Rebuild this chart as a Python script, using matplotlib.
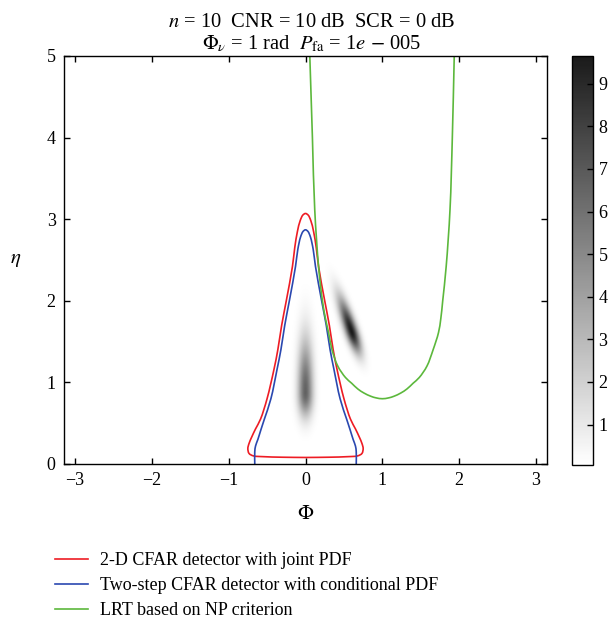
import numpy as np
import matplotlib
matplotlib.use("Agg")
import matplotlib.pyplot as plt
from matplotlib.colors import LinearSegmentedColormap
from matplotlib.lines import Line2D
from matplotlib.path import Path
from matplotlib.patches import PathPatch

# ---- data ----
# density blobs (2-D PDF shown as grey image)
blob_phi = [0.0, 0.60]
blob_eta = [0.87, 1.62]
blob_sigma_up = [0.45, 0.29]      # spread along main axis, upper side
blob_sigma_down = [0.20, 0.19]    # spread along main axis, lower side
blob_sigma_across = [0.068, 0.055]
blob_tilt_deg = [0.0, 20.0]       # tilt of main axis from vertical
blob_peak = [6.6, 9.6]

# red: 2-D CFAR detector with joint PDF (right half, mirrored)
red_halfwidth = [0.0, 0.30, 0.55, 0.68, 0.735, 0.75, 0.735, 0.70, 0.65, 0.585,
                 0.50, 0.41, 0.36, 0.31, 0.25, 0.17, 0.14, 0.105, 0.07,
                 0.035, 0.0]
red_eta = [0.08, 0.083, 0.09, 0.10, 0.13, 0.19, 0.25, 0.33, 0.43, 0.55,
           0.80, 1.16, 1.40, 1.70, 2.00, 2.42, 2.65, 2.85, 2.98, 3.05, 3.07]

# blue: two-step CFAR detector with conditional PDF (right half, mirrored)
blue_halfwidth = [0.66, 0.66, 0.65, 0.62, 0.58, 0.535, 0.45, 0.37, 0.32,
                  0.27, 0.21, 0.13, 0.10, 0.065, 0.032, 0.0]
blue_eta = [0.0, 0.15, 0.22, 0.30, 0.42, 0.55, 0.80, 1.16, 1.40, 1.70,
            2.00, 2.42, 2.63, 2.78, 2.85, 2.87]

# green: LRT based on NP criterion
green_phi = [0.056, 0.09, 0.12, 0.17, 0.22, 0.26, 0.30, 0.345, 0.42, 0.52,
             0.60, 0.68, 0.76, 0.85, 0.92, 1.00, 1.08, 1.15, 1.24, 1.32,
             1.40, 1.48, 1.58, 1.66, 1.73, 1.76, 1.785, 1.83, 1.88, 1.91,
             1.935]
green_eta = [5.0, 4.0, 3.12, 2.42, 2.00, 1.78, 1.61, 1.40, 1.20, 1.06,
             0.99, 0.92, 0.87, 0.83, 0.81, 0.80, 0.81, 0.83, 0.87, 0.92,
             0.99, 1.06, 1.20, 1.40, 1.61, 1.78, 2.00, 2.42, 3.12, 4.00,
             5.00]

legend_labels = ["2-D CFAR detector with joint PDF",
                 "Two-step CFAR detector with conditional PDF",
                 "LRT based on NP criterion"]
x_ticks = [-3, -2, -1, 0, 1, 2, 3]
y_ticks = [0, 1, 2, 3, 4, 5]
cbar_ticks = [1, 2, 3, 4, 5, 6, 7, 8, 9]

# ---- style ----
plt.rcParams['font.family'] = ['Liberation Serif', 'DejaVu Serif']
plt.rcParams['mathtext.fontset'] = 'stix'
FS = 13


def smooth_path(x, y):
    """Draw the read points as a smooth curve (centripetal Catmull-Rom)."""
    p = np.column_stack([x, y]).astype(float)
    n = len(p)
    verts = [p[0]]
    codes = [Path.MOVETO]
    for i in range(n - 1):
        p1, p2 = p[i], p[i + 1]
        d2 = np.linalg.norm(p2 - p1) ** 0.5
        if i > 0:
            p0 = p[i - 1]
            d1 = np.linalg.norm(p1 - p0) ** 0.5
            c1 = (d1**2 * p2 - d2**2 * p0 + (2*d1**2 + 3*d1*d2 + d2**2) * p1) / (3*d1*(d1 + d2))
        else:
            c1 = p1 + (p2 - p1) / 3.0
        if i + 2 < n:
            p3 = p[i + 2]
            d3 = np.linalg.norm(p3 - p2) ** 0.5
            c2 = (d3**2 * p1 - d2**2 * p3 + (2*d3**2 + 3*d3*d2 + d2**2) * p2) / (3*d3*(d3 + d2))
        else:
            c2 = p2 - (p2 - p1) / 3.0
        verts += [c1, c2, p2]
        codes += [Path.CURVE4] * 3
    return Path(verts, codes)


fig = plt.figure(figsize=(6.11, 6.25), dpi=100)
ax = fig.add_axes([64/611, 1-464/625, (547-64)/611, (464-56)/625])
cax = fig.add_axes([572/611, 1-465/625, 21/611, (465-56)/625])

# density image
phi = np.linspace(-np.pi, np.pi, 700)
eta = np.linspace(0, 5, 600)
P, E = np.meshgrid(phi, eta)
Z = np.zeros_like(P)
for cx, cy, su, sd, sa, t, pk in zip(blob_phi, blob_eta, blob_sigma_up,
                                      blob_sigma_down, blob_sigma_across,
                                      blob_tilt_deg, blob_peak):
    th = np.deg2rad(t)
    dx, dy = P - cx, E - cy
    along = dx * (-np.sin(th)) + dy * np.cos(th)
    across = dx * np.cos(th) + dy * np.sin(th)
    s_al = np.where(along >= 0, su, sd)
    Z += pk * np.exp(-0.5 * ((along / s_al) ** 2 + (across / sa) ** 2))

cmap = LinearSegmentedColormap.from_list("g", ["#ffffff", "#1a1a1a"])
im = ax.imshow(Z, extent=[-np.pi, np.pi, 0, 5], origin='lower', cmap=cmap,
               vmin=0.05, vmax=9.65, aspect='auto', interpolation='bilinear')

red_c, blue_c, green_c = '#ee1c24', '#2a48b0', '#5cb83c'
rh = np.array(red_halfwidth); re = np.array(red_eta)
ax.add_patch(PathPatch(smooth_path(np.concatenate([rh, -rh[::-1][1:]]),
                                   np.concatenate([re, re[::-1][1:]])),
                       fill=False, edgecolor=red_c, lw=1.2))
bh = np.array(blue_halfwidth); be = np.array(blue_eta)
ax.add_patch(PathPatch(smooth_path(np.concatenate([bh, -bh[::-1][1:]]),
                                   np.concatenate([be, be[::-1][1:]])),
                       fill=False, edgecolor=blue_c, lw=1.2))
ax.add_patch(PathPatch(smooth_path(green_phi, green_eta),
                       fill=False, edgecolor=green_c, lw=1.2))

ax.set_xlim(-np.pi, np.pi)
ax.set_ylim(0, 5)
ax.set_xticks(x_ticks)
ax.set_yticks(y_ticks)
ax.set_xticklabels([("\u2212%d" % -v) if v < 0 else str(v) for v in x_ticks])
ax.tick_params(direction='in', top=True, right=True, length=4, width=1,
               labelsize=FS, pad=6)
for s in ax.spines.values():
    s.set_linewidth(1.0)
ax.set_xlabel(r"$\Phi$", fontsize=FS + 2, labelpad=11)
ax.set_ylabel(r"$\eta$", fontsize=FS + 2, rotation=0, labelpad=22, va='center')

ax.set_title("$n$ = 10  CNR = 10 dB  SCR = 0 dB\n"
             r"$\Phi_\nu$ = 1 rad  $P_{\rm fa}$ = 1$e$ $-$ 005",
             fontsize=14.8, pad=5, linespacing=1.1, x=0.512)

cb = fig.colorbar(im, cax=cax, ticks=cbar_ticks)
cb.ax.tick_params(direction='in', length=4, width=1, labelsize=FS, pad=4)
cb.outline.set_linewidth(1.0)

handles = [Line2D([], [], color=c, lw=1.2) for c in (red_c, blue_c, green_c)]
fig.legend(handles, legend_labels, loc='upper left',
           bbox_to_anchor=(48/611, 1-545/625), frameon=False, fontsize=FS,
           handlelength=1.8, handletextpad=0.7, labelspacing=0.45,
           borderaxespad=0)

fig.savefig("out.png", dpi=100)
